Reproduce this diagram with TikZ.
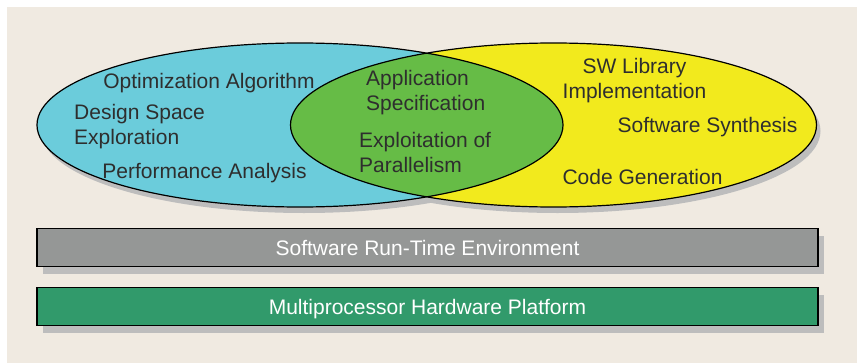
\documentclass[tikz,border=0pt]{standalone}
\usepackage{fontspec}
\setmainfont{Liberation Sans}
\usetikzlibrary{positioning,shadows}
\definecolor{bgbeige}{HTML}{F0EAE1}
\definecolor{shadowgray}{HTML}{BDBDBD}
\definecolor{bluefill}{HTML}{6BCCDB}
\definecolor{yellowfill}{HTML}{F2EA1D}
\definecolor{greenfill}{HTML}{66BC46}
\definecolor{runtimegray}{HTML}{959796}
\definecolor{hwgreen}{HTML}{319A6B}
\definecolor{txtgray}{HTML}{2E2E2E}
\begin{document}
\begin{tikzpicture}[x=1pt,y=-1pt,
	label/.style={text=txtgray,font=\fontsize{21}{24.5}\selectfont,inner sep=0pt},
	bar/.style={draw=black,line width=1.2pt,minimum width=781pt,minimum height=38pt,inner sep=0pt,
		text=white,text depth=0pt,font=\fontsize{21}{24.5}\selectfont,
		drop shadow={shadow xshift=6pt,shadow yshift=-7pt,fill=shadowgray,opacity=1}}]
		\useasboundingbox (0,0) rectangle (857,364);
		\fill[bgbeige] (7,7) rectangle (857,363);
		% shadows first, then the two sets and their overlap
		\fill[shadowgray] (304,131) ellipse [x radius=263pt,y radius=82pt]
		(557.5,131) ellipse [x radius=263pt,y radius=82pt];
		\fill[bluefill] (300,125) ellipse [x radius=263pt,y radius=82pt];
		\fill[yellowfill] (553.5,125) ellipse [x radius=263pt,y radius=82pt];
		\begin{scope}
		\clip (300,125) ellipse [x radius=263pt,y radius=82pt];
		\fill[greenfill] (553.5,125) ellipse [x radius=263pt,y radius=82pt];
		\end{scope}
		\draw[line width=1.2pt] (300,125) ellipse [x radius=263pt,y radius=82pt]
		(553.5,125) ellipse [x radius=263pt,y radius=82pt];
		\node[label,anchor=base](optalg) at (209,88) {Optimization Algorithm};
		\node[label,align=left,anchor=west](dse) at (74,126.8) {Design Space\\Exploration};
		\node[label,anchor=base](perf) at (204.5,178) {Performance Analysis};
		\node[label,align=left,anchor=west](spec) at (366,92.8) {Application\\Specification};
		\node[label,align=left,anchor=west](para) at (359,152.6) {Exploitation of\\Parallelism};
		\node[label,align=center](swlib) at (634.5,80.8) {SW Library\\Implementation};
		\node[label,anchor=base](synth) at (707.5,132) {Software Synthesis};
		\node[label,anchor=base](codegen) at (642.5,184) {Code Generation};
		\node[bar,fill=runtimegray](runtime) at (427.5,247.5) {Software Run-Time Environment};
		\node[bar,fill=hwgreen,below=20pt of runtime](platform) {Multiprocessor Hardware Platform};
		\end{tikzpicture}
\end{document}
